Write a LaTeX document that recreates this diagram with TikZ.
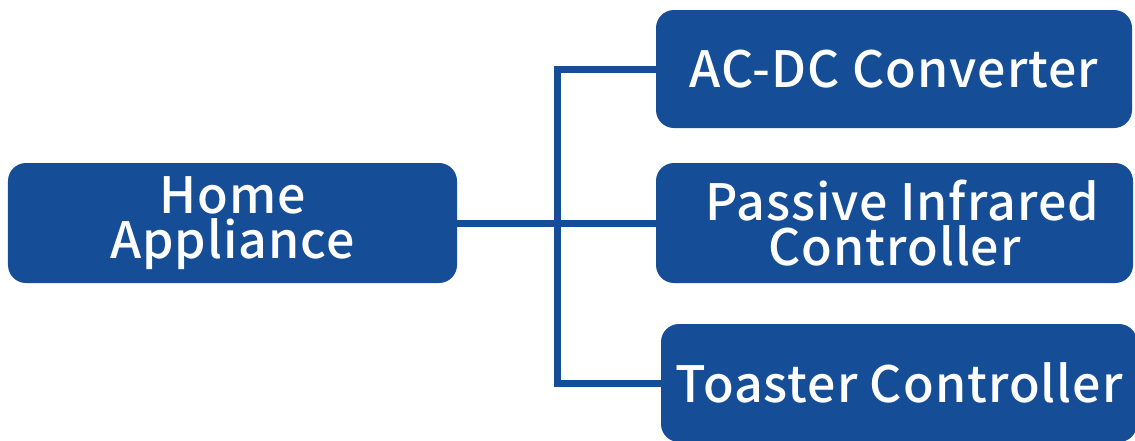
\documentclass[tikz,border=0pt]{standalone}
\usepackage{fontspec}
\usepackage{xcolor}
\newfontfamily\boxfont{Noto Sans CJK SC Medium}[LetterSpace=2]
\definecolor{vizBlue}{HTML}{154E96}
\usetikzlibrary{positioning}

\tikzset{
  boxNode/.style={draw=none, fill=vizBlue, rounded corners=0.36cm, text=white, align=center,
    inner sep=0pt, font=\boxfont\fontsize{28.5pt}{26pt}\selectfont},
  linkLine/.style={draw=vizBlue, line width=0.14cm}
}

\begin{document}
\begin{tikzpicture}
  \useasboundingbox (0cm,0cm) rectangle (22.7cm,-8.8cm);
  \node[boxNode, minimum width=8.98cm, minimum height=2.4cm] (home) at (4.65cm,-4.46cm) {Home\\Appliance};
  \node[boxNode, minimum width=9.52cm, minimum height=2.36cm] (acdc) at (17.88cm,-1.38cm) {AC-DC Converter};
  \node[boxNode, minimum width=9.54cm, minimum height=2.4cm] (pir) at (17.89cm,-4.46cm) {\hspace*{0.3cm}Passive Infrared\\Controller};
  \node[boxNode, minimum width=9.52cm, minimum height=2.36cm] (toaster) at (17.98cm,-7.66cm) {Toaster Controller};
  \coordinate (bus) at (11.15cm,-4.46cm);
  \draw[linkLine] (home.east) -- (pir.west);
  \draw[linkLine] (acdc.west) -| (bus) |- (toaster.west);
\end{tikzpicture}
\end{document}
